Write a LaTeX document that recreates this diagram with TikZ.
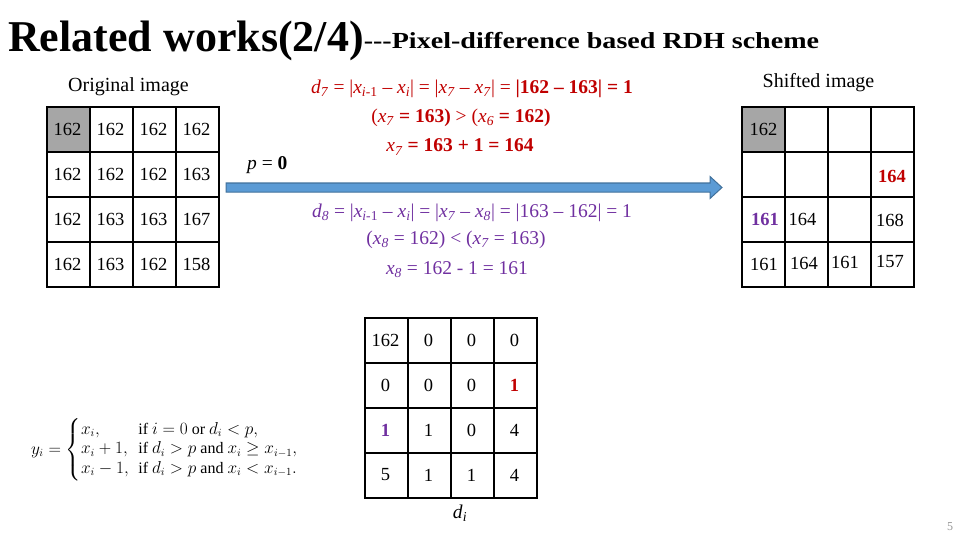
\documentclass[tikz,border=0pt]{standalone}
\usepackage{fontspec}
\setmainfont{Liberation Serif}
\usepackage{amsmath}
\usepackage{graphicx}
\definecolor{redtxt}{RGB}{192,0,0}
\definecolor{purtxt}{RGB}{112,48,160}
\definecolor{arrowfill}{RGB}{91,155,213}
\definecolor{arrowedge}{RGB}{65,113,156}
\definecolor{cellgray}{RGB}{166,166,166}
\definecolor{pagegray}{RGB}{150,150,150}
\newcommand{\vx}[1]{\textit{x}\textsubscript{\textit{#1}}}
\begin{document}
\begin{tikzpicture}[x=1pt,y=-1pt,
  cell/.style={draw, line width=1.8pt, minimum width=43pt, minimum height=45pt, inner sep=0pt, anchor=north west},
  num/.style={inner sep=0pt, anchor=center, font=\fontsize{18.5}{20}\selectfont},
  bnum/.style={num, font=\fontsize{18.5}{20}\selectfont\bfseries},
  formula/.style={inner sep=0pt, anchor=center, font=\fontsize{19.5}{22}\selectfont},
  label/.style={inner sep=0pt, anchor=center, font=\fontsize{20}{22}\selectfont}]
\useasboundingbox (0,0) rectangle (960,540);

% title
\node[anchor=base west, inner sep=0pt] (title) at (8,52)
  {\fontsize{44}{50}\selectfont\bfseries Related works(2/4)\raisebox{3pt}{\scalebox{1.22}[1]{\fontsize{23}{26}\selectfont\bfseries -{}-{}-Pixel-difference based RDH scheme}}};

% labels
\node[label] (origlbl) at (128.5,87) {Original image};
\node[label] (shiftlbl) at (818.5,83) {Shifted image};

% arrow
\fill[arrowfill, draw=arrowedge, line width=1pt] (226,183) -- (710,183) -- (710,176.5) -- (722,187.5) -- (710,198.5) -- (710,192) -- (226,192) -- cycle;

% original grid
\fill[cellgray] (46,106) rectangle (89,151);
\foreach \r in {0,...,3} \foreach \c in {0,...,3}
  \node[cell] (L-\r-\c) at (46+43*\c,106+45*\r) {};
\foreach \r/\row in {0/{162,162,162,162},1/{162,162,162,163},2/{162,163,163,167},3/{162,163,162,158}} {
  \foreach \t [count=\c from 0] in \row
    \node[num] (LT-\r-\c) at (67.5+43*\c,129+45*\r) {\t};
}

% shifted grid
\fill[cellgray] (741,106) rectangle (784,151);
\foreach \r in {0,...,3} \foreach \c in {0,...,3}
  \node[cell] (S-\r-\c) at (741+43*\c,106+45*\r) {};
\node[num] (ST-0-0) at (763.5,129) {162};
\node[bnum, text=redtxt] (ST-1-3) at (892,176) {164};
\node[bnum, text=purtxt] (ST-2-0) at (765,219) {161};
\node[num] (ST-2-1) at (802.5,219) {164};
\node[num] (ST-2-3) at (890,220) {168};
\node[num] (ST-3-0) at (764,264) {161};
\node[num] (ST-3-1) at (804,263) {164};
\node[num] (ST-3-2) at (845,262) {161};
\node[num] (ST-3-3) at (890,261) {157};

% difference grid
\foreach \r in {0,...,3} \foreach \c in {0,...,3}
  \node[cell] (D-\r-\c) at (364+43*\c,317+45*\r) {};
\foreach \r/\row in {0/{162,0,0,0},1/{0,0,0,{}},2/{{},1,0,4},3/{5,1,1,4}} {
  \foreach \t [count=\c from 0] in \row
    \node[num] (DT-\r-\c) at (385.5+43*\c,340+45*\r) {\t};
}
\node[bnum, text=redtxt] (DR) at (514.5,385) {1};
\node[bnum, text=purtxt] (DP) at (385.5,430) {1};
\node[formula] (di) at (460,513) {\textit{d}\textsubscript{\textit{i}}};

% p = 0
\node[formula, anchor=west] (p0) at (247,165) {\textit{p} = \textbf{0}};

% red formulas
\node[formula, text=redtxt] (r1) at (472,89)
  {\textit{d}\textsubscript{\textit{7}} = |\textit{x}\textsubscript{\textit{i}-1} – \vx{i}| = |\vx{7} – \vx{7}| = \textbf{|162 – 163| = 1}};
\node[formula, text=redtxt] (r2) at (461,118)
  {(\vx{7} \textbf{= 163)} > (\vx{6} \textbf{= 162)}};
\node[formula, text=redtxt] (r3) at (460,147)
  {\vx{7} \textbf{= 163 + 1 = 164}};

% purple formulas
\node[formula, text=purtxt] (p1) at (472,213)
  {\textit{d}\textsubscript{\textit{8}} = |\textit{x}\textsubscript{\textit{i}-1} – \vx{i}| = |\vx{7} – \vx{8}| = |163 – 162| = 1};
\node[formula, text=purtxt] (p2) at (456,240)
  {(\vx{8} = 162) < (\vx{7} = 163)};
\node[formula, text=purtxt] (p3) at (457,270)
  {\vx{8} = 162 - 1 = 161};

% piecewise definition
\node[inner sep=0pt, anchor=west, font=\fontsize{16}{19.5}\selectfont] (rule) at (31,450)
  {$y_i = \left\{\begin{array}{@{}l@{\;\;}l@{}}
    x_i, & \text{if } i = 0 \text{ or } d_i < p,\\
    x_i + 1, & \text{if } d_i > p \text{ and } x_i \ge x_{i-1},\\
    x_i - 1, & \text{if } d_i > p \text{ and } x_i < x_{i-1}.
  \end{array}\right.$};

% page number
\node[inner sep=0pt, text=pagegray, font=\fontsize{12}{14}\selectfont] (pg) at (950,527) {5};
\end{tikzpicture}
\end{document}
